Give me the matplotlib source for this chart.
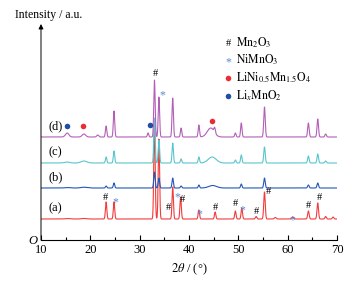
import numpy as np
import matplotlib
matplotlib.use("Agg")
from matplotlib import pyplot as plt

plt.rcParams['font.family'] = ['Liberation Serif', 'DejaVu Serif']
plt.rcParams['mathtext.fontset'] = 'stix'

# peak lists: position (2theta, deg), height, half width
a_pos = [15.3, 18.7, 23.2, 24.8, 33.0, 33.9, 36.7, 38.3, 42.0, 45.3, 49.4, 50.7, 53.6, 55.3, 57.5, 61.0, 64.2, 66.1, 67.7, 69.2]
a_h = [0.5, 0.5, 17, 17, 95, 80, 32, 22, 9, 7, 8, 11, 2.5, 27, 1.5, 2, 8, 16, 2.5, 2]
a_w = [0.5, 0.5, 0.14, 0.14, 0.14, 0.14, 0.14, 0.14, 0.14, 0.14, 0.14, 0.14, 0.15, 0.15, 0.2, 0.2, 0.15, 0.15, 0.15, 0.15]

b_pos = [15.3, 18.7, 23.2, 24.8, 33.0, 33.9, 36.7, 38.4, 42.0, 44.8, 50.6, 55.3, 64.2, 66.1]
b_h = [0.5, 0.8, 2, 5, 16, 10, 10, 2, 3, 2.5, 4, 10, 3, 5]
b_w = [0.5, 0.6, 0.14, 0.14, 0.14, 0.14, 0.14, 0.14, 0.14, 0.8, 0.14, 0.15, 0.15, 0.15]

c_pos = [15.3, 18.7, 23.2, 24.8, 33.0, 33.9, 36.7, 38.4, 42.0, 44.7, 49.4, 50.6, 55.3, 64.2, 66.1, 67.7]
c_h = [1, 2, 6, 12, 45, 23, 20, 4, 6, 6, 3, 8, 16, 7, 9, 2]
c_w = [0.5, 0.6, 0.14, 0.14, 0.14, 0.14, 0.14, 0.14, 0.14, 0.8, 0.14, 0.14, 0.15, 0.15, 0.15, 0.15]

d_pos = [15.3, 18.7, 21.5, 23.2, 24.8, 31.7, 33.0, 33.9, 36.7, 38.4, 42.0, 44.4, 45.2, 49.4, 50.6, 55.3, 64.2, 66.1, 67.7]
d_h = [4, 3, 2, 11, 26, 4, 57, 40, 39, 9, 12, 9, 5, 4, 14, 30, 14, 18, 3]
d_w = [0.35, 0.35, 0.2, 0.14, 0.14, 0.14, 0.14, 0.14, 0.14, 0.14, 0.14, 0.7, 0.14, 0.14, 0.14, 0.15, 0.15, 0.15, 0.15]

offsets = [21, 52, 77, 103]
names = ['(a)', '(b)', '(c)', '(d)']
colors = ['#f23c3c', '#2456b8', '#57c6cd', '#b35fb8']

# phase marks on the patterns: (2theta, height, symbol)
a_marks = [(23.0, 43, '#'), (25.0, 40, '*'), (35.9, 32, '#'), (37.6, 45, '*'),
           (38.7, 40, '#'), (42.0, 28, '*'), (45.4, 33, '#'), (49.5, 36, '#'),
           (50.8, 32, '*'), (53.6, 28, '#'), (56.1, 48, '#'), (61.0, 22, '*'),
           (64.3, 34, '#'), (66.4, 42, '#')]
d_marks = [(33.1, 166, '#'), (34.5, 147, '*')]
d_dots = [(15.3, 114, 'blue'), (18.5, 114, 'red'), (32.1, 115, 'blue'), (44.6, 119, 'red')]

legend_labels = [r'$\mathrm{Mn_2O_3}$', r'$\mathrm{NiMnO_3}$',
                 r'$\mathrm{LiNi_{0.5}Mn_{1.5}O_4}$', r'$\mathrm{Li_{\mathit{x}}MnO_2}$']

star_col = '#5b86d6'
dot_col = {'red': '#ea2d35', 'blue': '#1f4ea6'}

x = np.linspace(10, 70, 3000)


def pattern(pos, h, w):
    y = np.zeros_like(x)
    for p, hh, ww in zip(pos, h, w):
        y += hh * np.exp(-0.5 * ((x - p) / ww) ** 2)
    return y


fig = plt.figure(figsize=(3.61, 2.81), dpi=100)
ax = fig.add_axes([41 / 361, 1 - 240 / 281, 296 / 361, 216 / 281])

series = [(a_pos, a_h, a_w), (b_pos, b_h, b_w), (c_pos, c_h, c_w), (d_pos, d_h, d_w)]
for (pos, h, w), off, col, nm in zip(series, offsets, colors, names):
    ax.plot(x, off + pattern(pos, h, w), color=col, lw=0.8)
    ax.text(13.0, off + 11, nm, fontsize=9, ha='center', va='center')

for xx, yy, s in a_marks + d_marks:
    if s == '#':
        ax.text(xx, yy, '#', fontsize=7.5, ha='center', va='center', color='black')
    else:
        ax.text(xx, yy - 2.5, '*', fontsize=8.5, ha='center', va='center', color=star_col)

for xx, yy, c in d_dots:
    ax.plot(xx, yy, 'o', ms=4, color=dot_col[c], mec='none')

# legend drawn by hand
leg_y = [197, 180, 162, 144]
ax.text(47.9, leg_y[0], '#', fontsize=7.5, ha='center', va='center')
ax.text(47.9, leg_y[1] - 2.5, '*', fontsize=8.5, ha='center', va='center', color=star_col)
ax.plot(47.9, leg_y[2], 'o', ms=4, color=dot_col['red'], mec='none')
ax.plot(47.9, leg_y[3], 'o', ms=4, color=dot_col['blue'], mec='none')
for yy, lab in zip(leg_y, legend_labels):
    ax.text(49.6, yy, lab, fontsize=8.5, ha='left', va='center')

ax.set_xlim(10, 70)
ax.set_ylim(0, 216)
ax.set_xticks(range(10, 71, 10))
ax.set_xticks(range(15, 70, 10), minor=True)
ax.tick_params(axis='x', which='major', direction='in', length=3.5, width=0.8, labelsize=9, pad=3)
ax.tick_params(axis='x', which='minor', direction='in', length=2, width=0.8)
ax.set_yticks([])
for s in ['top', 'right', 'left']:
    ax.spines[s].set_visible(False)
ax.spines['bottom'].set_linewidth(0.8)
ax.annotate('', xy=(0, 1), xytext=(0, 0), xycoords='axes fraction',
            arrowprops=dict(arrowstyle='-|>', lw=0.7, color='black', mutation_scale=7,
                            shrinkA=0, shrinkB=0))

ax.set_xlabel(r'$2\theta$ / (°)', fontsize=9, labelpad=4)
fig.text(33 / 361, 1 - 241 / 281, 'O', fontsize=9, style='italic', ha='center', va='center')
fig.text(15 / 361, 1 - 15 / 281, 'Intensity / a.u.', fontsize=8.5, ha='left', va='center')

fig.savefig('out.png', dpi=100)
